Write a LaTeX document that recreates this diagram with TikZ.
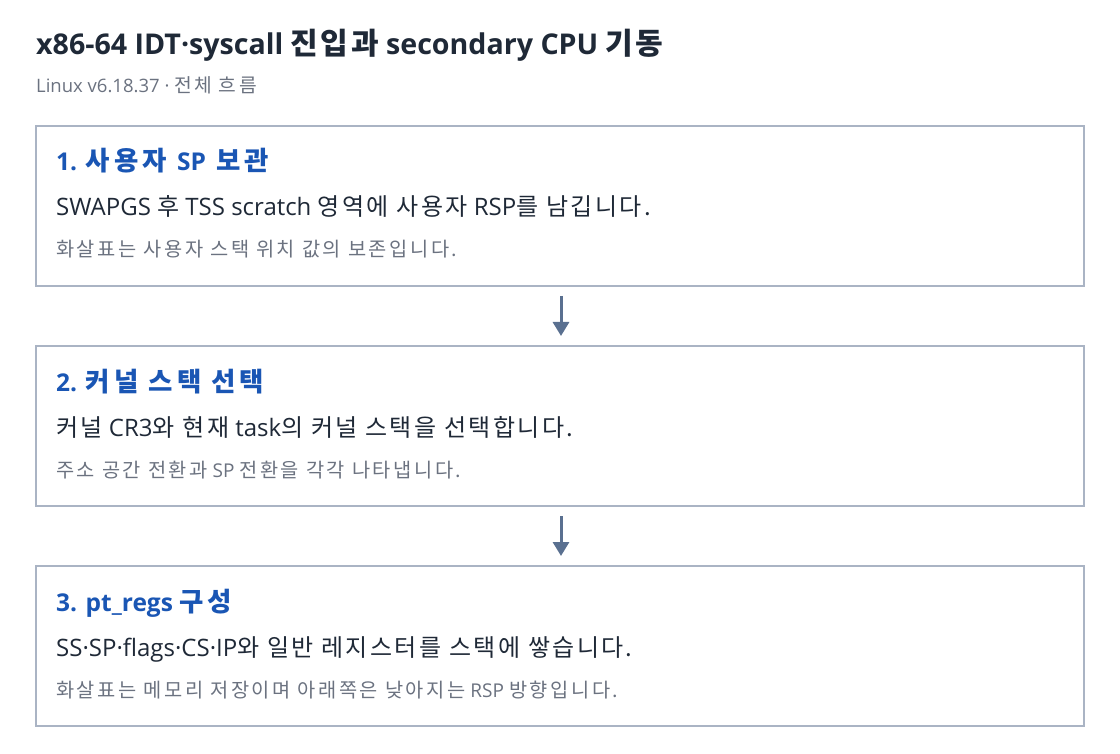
\documentclass[tikz,border=0pt]{standalone}
\usepackage{fontspec}
\setmainfont{Open Sans}
\newfontfamily\kobody{Noto Sans CJK KR}[LetterSpace=10]
\newfontfamily\konote{Noto Sans CJK KR}[Scale=1.04, LetterSpace=13]
\newfontfamily\kohead{Noto Sans CJK KR}[Scale=1.08, LetterSpace=15, BoldFeatures={LetterSpace=15.5}]
\newfontfamily\kotitle{Noto Sans CJK KR}[Scale=1.05, LetterSpace=8, BoldFeatures={LetterSpace=8.5}]
\let\kocur\kobody
\newcommand{\ko}[1]{{\kocur #1}}
\usetikzlibrary{arrows.meta}
\definecolor{titlec}{HTML}{1F2937}
\definecolor{subc}{HTML}{6B7280}
\definecolor{headc}{HTML}{1A56B4}
\definecolor{bodyc}{HTML}{1F2937}
\definecolor{borderc}{HTML}{AAB4C4}
\definecolor{arrowc}{HTML}{5A7090}
\tikzset{
  stepbox/.style={draw=borderc, line width=1.2pt, fill=white},
  titletxt/.style={anchor=base west, inner sep=0pt, text=titlec, font=\let\kocur\kotitle\fontsize{28.6}{30}\selectfont\bfseries},
  subtxt/.style={anchor=base west, inner sep=0pt, text=subc, font=\let\kocur\konote\fontsize{18.5}{20}\selectfont},
  headtxt/.style={anchor=base west, inner sep=0pt, text=headc, font=\let\kocur\kohead\fontsize{24.5}{25}\selectfont\bfseries},
  bodytxt/.style={anchor=base west, inner sep=0pt, text=bodyc, font=\let\kocur\kobody\fontsize{24}{26}\selectfont},
  notetxt/.style={anchor=base west, inner sep=0pt, text=subc, font=\let\kocur\konote\fontsize{19}{20}\selectfont},
  flow/.style={draw=arrowc, line width=3pt, -{Triangle[width=16pt,length=14pt]}}
}
\begin{document}
\begin{tikzpicture}[x=1pt,y=-1pt]
\useasboundingbox[fill=white] (0,0) rectangle (1120,754);
\node[titletxt] (title) at (36,55) {x86-64 IDT·syscall \ko{진입과} secondary CPU \ko{기동}};
\node[subtxt] (sub) at (36,93) {Linux v6.18.37 · \ko{전체 흐름}};

\path[stepbox] (36,126) rectangle (1084,286);
\coordinate (b1) at (561,286);
\node[headtxt] (h1) at (56,171) {1. \ko{사용자 }SP\ko{ 보관}};
\node[bodytxt] (m1) at (56,216) {SWAPGS \ko{후} TSS scratch \ko{영역에 사용자} RSP\ko{를 남깁니다.}};
\node[notetxt] (n1) at (56,257) {\ko{화살표는 사용자 스택 위치 값의 보존입니다.}};

\path[stepbox] (36,346) rectangle (1084,506);
\coordinate (t2) at (561,346);
\coordinate (b2) at (561,506);
\node[headtxt] (h2) at (56,391) {2. \ko{커널 스택 선택}};
\node[bodytxt] (m2) at (56,436) {\ko{커널} CR3\ko{와 현재} task\ko{의 커널 스택을 선택합니다.}};
\node[notetxt] (n2) at (56,477) {\ko{주소 공간 전환과} SP \ko{전환을 각각 나타냅니다.}};

\path[stepbox] (36,566) rectangle (1084,726);
\coordinate (t3) at (561,566);
\node[headtxt] (h3) at (56,611) {3. pt\_regs \ko{구성}};
\node[bodytxt] (m3) at (56,656) {SS·SP·flags·CS·IP\ko{와 일반 레지스터를 스택에 쌓습니다.}};
\node[notetxt] (n3) at (56,697) {\ko{화살표는 메모리 저장이며 아래쪽은 낮아지는} RSP \ko{방향입니다.}};

\draw[flow] ([yshift=-10pt]b1) -- ([yshift=10pt]t2);
\draw[flow] ([yshift=-10pt]b2) -- ([yshift=10pt]t3);
\end{tikzpicture}
\end{document}
